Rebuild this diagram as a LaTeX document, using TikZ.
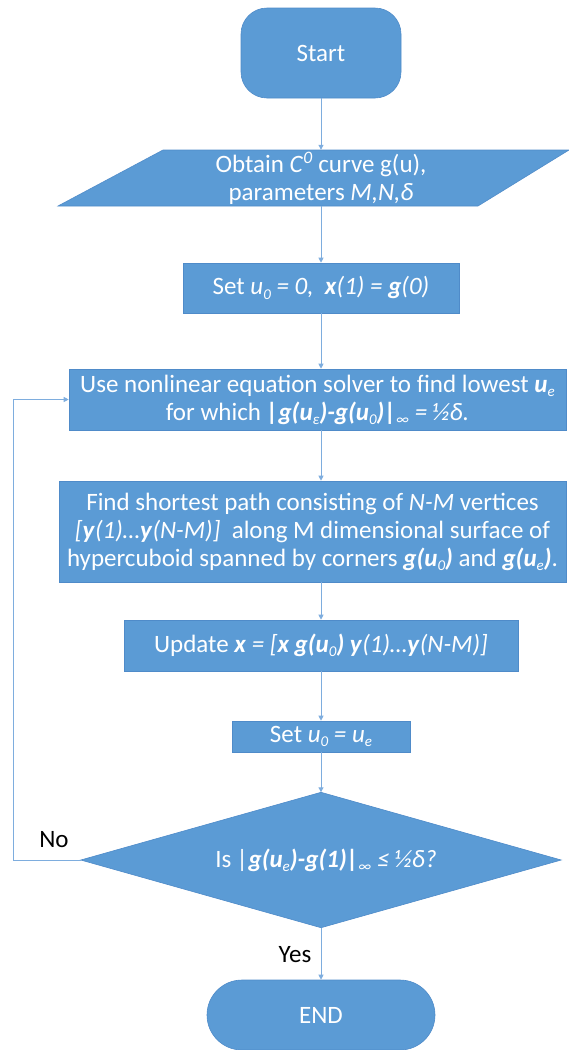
\documentclass[tikz,border=0pt]{standalone}
\usepackage{fontspec}
\setmainfont{Carlito}
\usetikzlibrary{arrows.meta}
\definecolor{boxblue}{HTML}{5B9BD5}
\definecolor{boxedge}{HTML}{4F8BC9}
\definecolor{arrowblue}{HTML}{7EADDE}
\newcommand\bi[1]{\textbf{\textit{#1}}}
\newcommand\sbs[1]{\raisebox{-0.35ex}{\fontsize{15pt}{15pt}\selectfont\itshape #1}}
\begin{document}
\begin{tikzpicture}[x=1pt,y=-1pt,
  box/.style={draw=boxedge, line width=0.6pt, fill=boxblue, text=white,
    font=\fontsize{25pt}{28pt}\selectfont, align=center, inner sep=0pt},
  shapefill/.style={draw=boxedge, line width=0.6pt, fill=boxblue},
  txt/.style={text=white, font=\fontsize{25pt}{28pt}\selectfont, align=center, inner sep=0pt},
  flow/.style={draw=arrowblue, line width=1pt, -{Triangle[length=5pt,width=5pt]}},
  lab/.style={font=\fontsize{25pt}{28pt}\selectfont, text=black, inner sep=0pt}]
\useasboundingbox (0,0) rectangle (569,1050);
% start
\node[box, rounded corners=26pt, minimum width=160pt, minimum height=90pt] (start) at (321,53) {Start};
% input parallelogram
\coordinate (p1) at (163,150);
\coordinate (p2) at (569,150);
\coordinate (p3) at (478,206);
\coordinate (p4) at (58,206);
\path[shapefill] (p1) -- (p2) -- (p3) -- (p4) -- cycle;
\node[txt, minimum height=56pt] (inp) at (321,178) {Obtain \textit{C}\textsuperscript{\textit{0}} curve g(u),\\parameters \textit{M,N,δ}};
% set u0 = 0
\node[box, minimum width=276pt, minimum height=50pt] (set1) at (321,288)
  {Set \textit{u}\sbs{0} \textit{= 0,}\ \ \bi{x}\textit{(1) =} \bi{g}\textit{(0)}};
% solver
\node[box, minimum width=497pt, minimum height=61pt] (use) at (317.5,399.5)
  {Use nonlinear equation solver to find lowest \bi{u}\sbs{e}\\
   for which \bi{|g(u}\sbs{ε}\bi{)-g(u}\sbs{0}\bi{)|}\sbs{∞} \textit{= ½δ.}};
% shortest path
\node[box, minimum width=507pt, minimum height=101pt] (find) at (312.5,531.5)
  {Find shortest path consisting of \textit{N-M} vertices\\
   \textit{[}\bi{y}\textit{(1)…}\bi{y}\textit{(N-M)]}\ \ along M dimensional surface of\\
   hypercuboid spanned by corners \bi{g(u}\sbs{0}\bi{)} and \bi{g(u}\sbs{e}\bi{)}.};
% update
\node[box, minimum width=394pt, minimum height=51pt] (upd) at (321,645.5)
  {Update \bi{x} \textit{= [}\bi{x g(u}\sbs{0}\bi{) y}\textit{(1)…}\bi{y}\textit{(N-M)]}};
% set u0 = ue
\node[box, minimum width=178pt, minimum height=31pt] (set2) at (321,736.5)
  {Set \textit{u}\sbs{0} \textit{= u}\sbs{e}};
% decision
\node[minimum width=480pt, minimum height=135pt, inner sep=0pt] (dec) at (321,860) {};
\path[shapefill] (dec.north) -- (dec.east) -- (dec.south) -- (dec.west) -- cycle;
\node[txt] (dectext) at ([xshift=5pt]dec.center)
  {Is \textit{|}\bi{g(u}\sbs{e}\bi{)-g(1)|}\sbs{∞} \textit{≤ ½δ?}};
% end
\node[box, rounded corners=35pt, minimum width=228pt, minimum height=70pt] (end) at (321,1015) {END};
% connectors
\draw[flow] (start.south) -- (inp.north);
\draw[flow] (inp.south) -- (set1.north);
\draw[flow] (set1.south) -- (set1.south |- use.north);
\draw[flow] (set1.south |- use.south) -- (set1.south |- find.north);
\draw[flow] (set1.south |- find.south) -- (upd.north);
\draw[flow] (upd.south) -- (set2.north);
\draw[flow] (set2.south) -- (dec.north);
\draw[flow] (dec.south) -- (end.north);
\coordinate (loopx) at (13,0);
\draw[flow] (dec.west) -- (loopx |- dec.west) |- (use.west);
% labels
\node[lab] (no) at (54,840) {No};
\node[lab] (yes) at (295,955) {Yes};
\end{tikzpicture}
\end{document}
